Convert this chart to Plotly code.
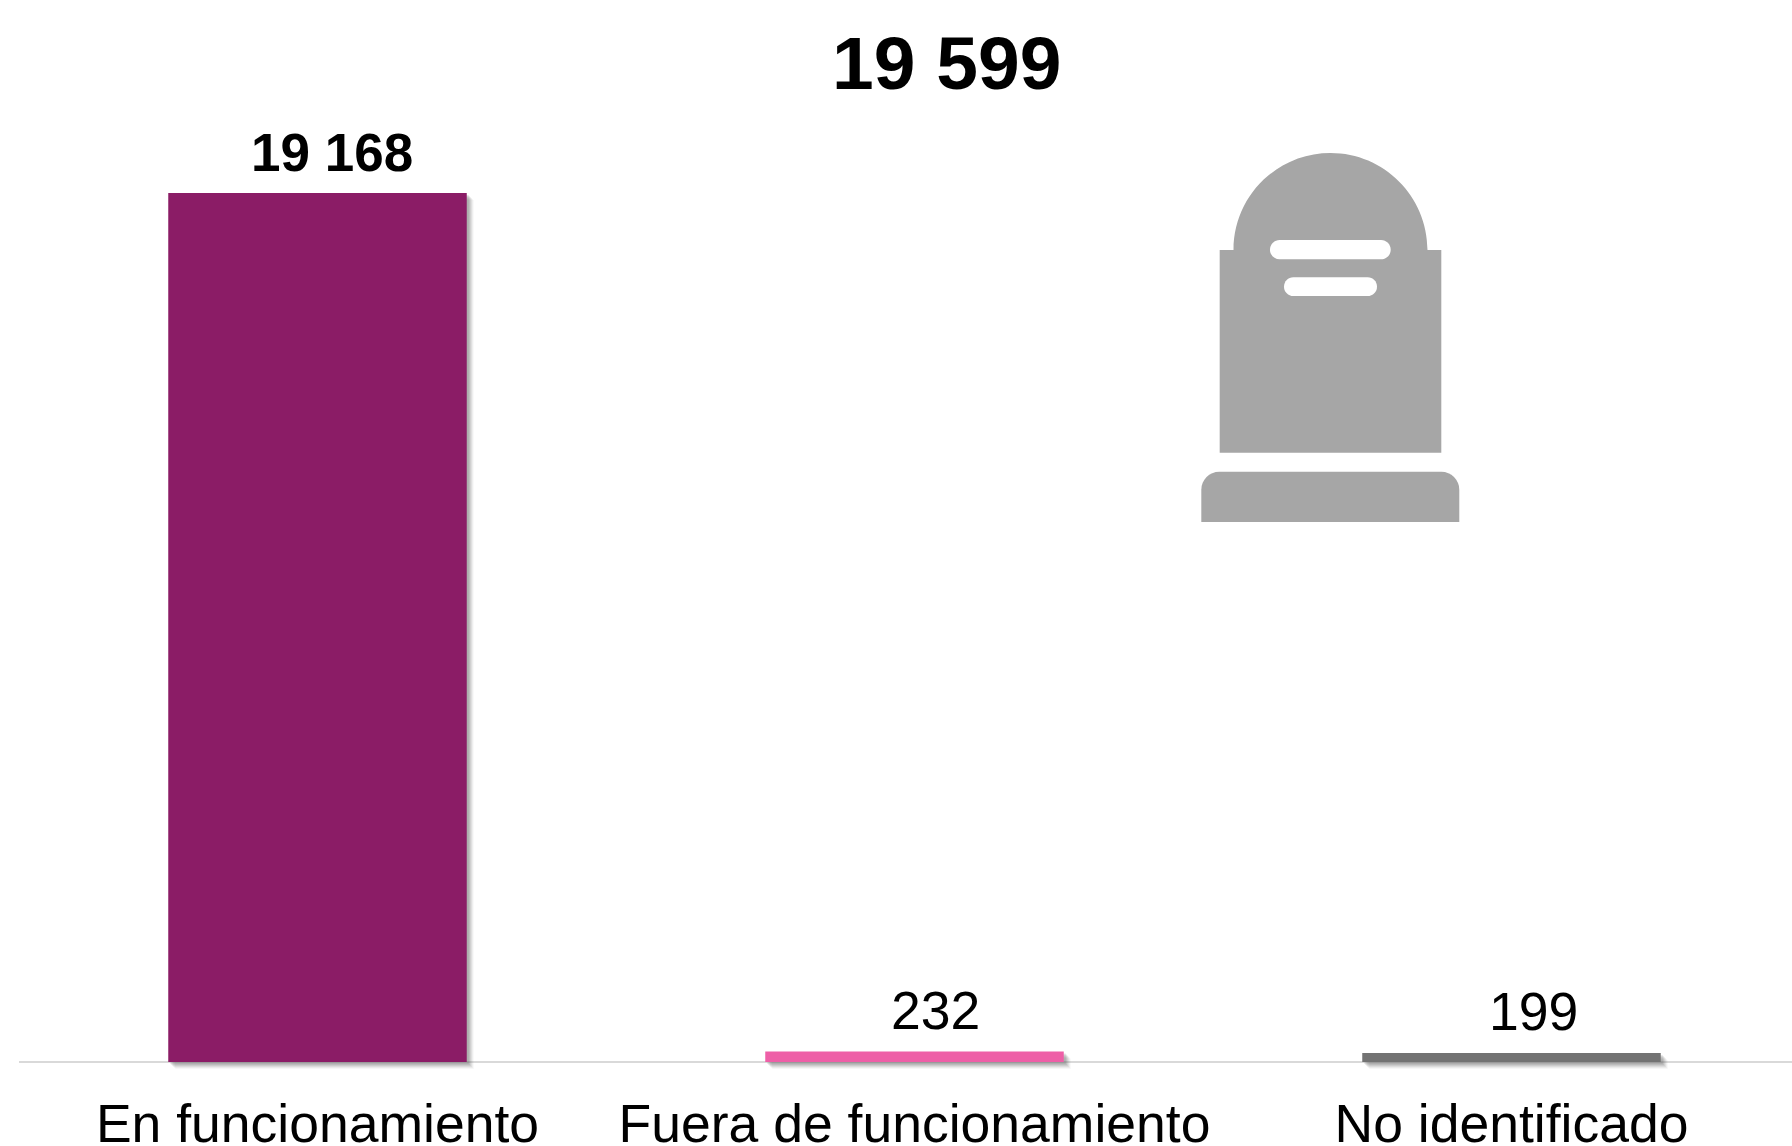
import plotly.graph_objects as go

categories = ["En funcionamiento", "Fuera de funcionamiento", "No identificado"]
values = [19168, 232, 199]
total_label = "19 599"
bar_colors = ["#8B1C66", "#EE5FA7", "#737373"]
label_bold = [True, False, False]
label_xshift = [14, 21, 22]

W, H = 1792, 1146
PL, PB_PX, BASE_PX = 19, 1070, 1062
UNIT = 19168 / (1062 - 193)          # data units per pixel
CAT_PX = 597.0
GRAY = "#A6A6A6"
FONT = "Liberation Sans"


def fmt(v):
    return f"{v:,}".replace(",", " ")


fig = go.Figure()

# soft drop shadow: stacked translucent copies of the bars, offset right/down
for d, alpha in [(7, 0.05), (6, 0.07), (5, 0.10), (4, 0.12), (3, 0.14), (2, 0.14)]:
    fig.add_trace(go.Bar(
        x=categories,
        y=[max(v - d * UNIT, 0) + d * UNIT for v in values],
        base=[-d * UNIT] * 3,
        width=0.5,
        offset=-0.25 + d / CAT_PX,
        marker=dict(color=f"rgba(90,90,90,{alpha})", line_width=0),
        hoverinfo="skip",
        showlegend=False,
    ))

fig.add_trace(go.Bar(
    x=categories, y=values, width=0.5, offset=-0.25,
    marker=dict(color=bar_colors, line_width=0),
    showlegend=False,
))

annotations = [
    dict(x=c, y=v, xref="x", yref="y", text=(f"<b>{fmt(v)}</b>" if b else fmt(v)),
         showarrow=False, xanchor="center", yanchor="middle", xshift=s, yshift=41,
         font=dict(family=FONT, size=53 if b else 53.5, color="#000000"))
    for c, v, b, s in zip(categories, values, label_bold, label_xshift)
]
annotations.append(dict(
    x=(946 - PL) / (W - PL), y=1 - 63 / PB_PX, xref="paper", yref="paper",
    text=f"<b>{total_label}</b>", showarrow=False, xanchor="center", yanchor="middle",
    font=dict(family=FONT, size=75, color="#000000"),
))


# tombstone icon (pixel layout converted to paper coordinates)
def px(x):
    return (x - PL) / (W - PL)


def py(y):
    return 1 - y / PB_PX


def path(cmds):
    out = []
    for c, pts in cmds:
        out.append(c + " ".join(f"{px(a):.5f},{py(b):.5f}" for a, b in pts))
    return " ".join(out) + " Z"


K = 0.5523
cx, r, yb = 1330.5, 97, 250
stone = path([
    ("M", [(1219.7, 452.7)]), ("L", [(1219.7, yb)]), ("L", [(cx - r, yb)]),
    ("C", [(cx - r, yb - K * r), (cx - K * r, yb - r), (cx, yb - r)]),
    ("C", [(cx + K * r, yb - r), (cx + r, yb - K * r), (cx + r, yb)]),
    ("L", [(1441.3, yb)]), ("L", [(1441.3, 452.7)]),
])
rb = 18
plinth = path([
    ("M", [(1201.3, 522)]), ("L", [(1201.3, 471.7 + rb)]),
    ("C", [(1201.3, 471.7 + rb * (1 - K)), (1201.3 + rb * (1 - K), 471.7), (1201.3 + rb, 471.7)]),
    ("L", [(1459.3 - rb, 471.7)]),
    ("C", [(1459.3 - rb * (1 - K), 471.7), (1459.3, 471.7 + rb * (1 - K)), (1459.3, 471.7 + rb)]),
    ("L", [(1459.3, 522)]),
])


def pill(x0, x1, y0, y1):
    q = (y1 - y0) / 2
    return path([
        ("M", [(x0 + q, y0)]), ("L", [(x1 - q, y0)]),
        ("C", [(x1 - q + K * q, y0), (x1, y0 + q - K * q), (x1, y0 + q)]),
        ("C", [(x1, y0 + q + K * q), (x1 - q + K * q, y1), (x1 - q, y1)]),
        ("L", [(x0 + q, y1)]),
        ("C", [(x0 + q - K * q, y1), (x0, y0 + q + K * q), (x0, y0 + q)]),
        ("C", [(x0, y0 + q - K * q), (x0 + q - K * q, y0), (x0 + q, y0)]),
    ])


shapes = [
    dict(type="path", xref="paper", yref="paper", path=p, fillcolor=col, line_width=0, layer="above")
    for p, col in [
        (stone, GRAY), (plinth, GRAY),
        (pill(1270, 1390.7, 240, 259.3), "#FFFFFF"),
        (pill(1284, 1377, 277.3, 296), "#FFFFFF"),
    ]
]

fig.update_layout(
    width=W, height=H,
    margin=dict(l=PL, r=0, t=0, b=H - PB_PX, pad=0),
    paper_bgcolor="#FFFFFF", plot_bgcolor="#FFFFFF",
    barmode="overlay", showlegend=False,
    annotations=annotations, shapes=shapes,
    xaxis=dict(
        type="category", categoryorder="array", categoryarray=categories,
        range=[-0.5, -0.5 + (W - PL) / CAT_PX],
        showgrid=False, zeroline=False, showline=False, automargin=False,
        ticks="outside", ticklen=7, tickcolor="rgba(0,0,0,0)",
        tickfont=dict(family=FONT, size=53.5, color="#000000"),
    ),
    yaxis=dict(
        range=[-(PB_PX - BASE_PX) * UNIT, BASE_PX * UNIT],
        showgrid=False, showticklabels=False, ticks="", showline=False, automargin=False,
        zeroline=True, zerolinecolor="#D9D9D9", zerolinewidth=2,
    ),
)

fig.write_html(
    "out.html",
    config={"displayModeBar": False},
    post_script="document.body.style.margin='0';document.body.style.overflow='hidden';",
)
